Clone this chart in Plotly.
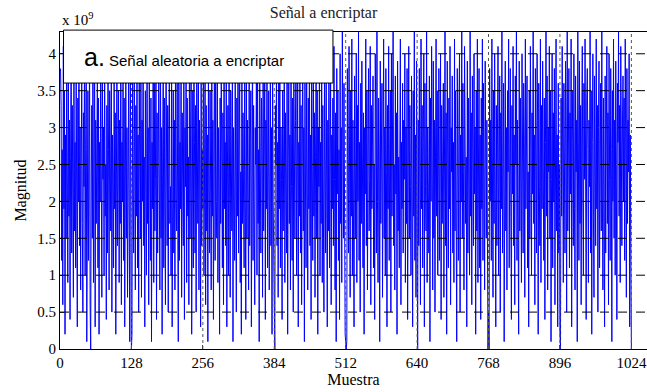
import numpy as np
import plotly.graph_objects as go

# Signal values in units of 1e8, 128 samples per block
seg_a = [38,33,12,27,6,41,19,35,2,29,15,40,24,9,36,18,
         31,4,26,42,13,33,21,7,39,16,28,11,37,23,3,34,
         20,43,14,30,8,25,38,17,5,32,22,41,10,27,36,1,
         19,35,12,29,40,6,0,24,33,15,38,9,21,42,3,31,
         17,26,37,11,34,2,28,20,39,14,7,36,23,30,10,41,
         18,25,4,33,13,38,27,8,35,21,16,42,5,29,24,11,
         37,19,32,2,26,40,14,22,35,9,31,17,43,6,28,20,
         38,12,34,3,25,39,15,30,7,23,36,18,1,41,10,0]
seg_b = [2,36,21,13,40,27,8,33,18,42,11,29,5,37,24,15,
         39,7,31,20,43,14,26,3,35,22,10,41,17,30,6,38,
         25,12,34,1,28,19,42,9,36,16,23,40,4,32,13,27,
         37,21,8,43,15,30,2,26,39,11,34,18,6,41,24,14,
         33,5,29,38,17,22,10,42,3,27,35,13,31,8,40,20,
         16,36,25,1,43,12,28,19,38,7,32,24,14,41,4,30,
         22,39,9,34,18,26,6,42,15,29,37,2,23,35,11,40,
         28,13,33,5,38,20,17,41,8,31,25,3,36,14,27,19]
seg_c = [42,10,24,37,6,33,16,29,1,39,21,13,35,26,8,41,
         18,31,4,27,43,12,36,20,15,38,9,30,23,2,34,17,
         40,25,11,32,6,42,19,28,14,37,3,24,33,10,39,21,
         7,35,26,16,43,1,30,22,12,38,27,5,34,18,41,13,
         29,36,9,24,2,40,17,32,20,11,37,26,4,43,15,31,
         23,8,39,14,28,35,3,21,42,12,33,19,6,30,25,38,
         10,41,17,27,1,36,22,13,34,29,7,40,16,24,38,4,
         31,19,43,11,26,35,8,22,37,14,30,2,41,20,9,1]
seg_d = [0,33,25,40,14,28,7,37,19,42,11,30,23,4,35,16,
         27,39,9,32,21,13,43,2,26,36,17,29,8,41,22,12,
         34,5,38,20,15,31,42,10,24,37,3,28,18,40,13,33,
         6,25,43,16,30,1,36,21,11,39,27,8,34,19,42,14,
         29,4,37,23,12,41,18,32,7,26,38,15,35,2,30,22,
         40,10,28,17,43,9,33,24,5,36,20,13,39,27,3,31,
         16,42,11,25,37,6,29,19,34,14,41,23,8,32,1,38,
         21,35,12,27,4,40,17,30,9,43,24,15,36,6,2,1]
seg_e = [0,1,38,24,13,41,29,7,35,18,42,10,31,22,3,37,
         26,15,40,9,33,20,43,12,28,5,36,17,39,24,11,32,
         2,30,21,42,14,35,8,27,38,16,23,41,6,33,19,29,
         37,11,25,4,40,31,13,43,20,9,34,26,1,39,17,28,
         36,7,22,42,15,30,10,38,24,3,33,19,41,12,27,35,
         5,40,18,29,43,14,25,8,37,21,32,2,39,16,26,11,
         34,42,6,28,19,36,13,31,23,40,9,30,17,38,4,27,
         41,15,33,22,10,37,25,3,35,18,43,12,29,7,39,21]
seg_f = [0,31,14,38,25,6,42,19,33,11,28,40,3,36,22,16,
         43,9,30,24,13,37,1,34,20,41,27,8,39,15,31,5,
         26,42,18,35,10,29,38,12,23,40,4,33,17,28,36,7,
         21,43,14,32,2,39,25,11,34,19,41,6,30,24,37,13,
         28,9,42,16,35,22,1,38,27,12,33,40,5,29,20,43,
         15,36,24,8,41,31,17,26,3,39,13,34,22,10,43,18,
         32,6,37,27,14,40,21,30,2,35,16,42,9,25,38,11,
         29,4,34,19,42,12,36,23,8,39,26,15,31,1,0,5]
seg_g = [0,38,20,31,12,42,27,7,35,17,40,24,3,33,14,29,
         41,10,26,37,5,32,19,43,13,28,36,1,22,39,16,30,
         8,35,24,42,11,27,38,18,4,33,21,41,14,29,6,37,
         25,43,12,31,20,2,39,16,34,26,9,40,23,13,36,28,
         7,42,19,30,37,11,24,3,35,15,41,27,10,32,21,43,
         17,29,6,38,25,13,40,31,2,36,22,14,42,9,33,19,
         39,26,12,34,4,28,43,18,37,8,30,24,41,15,35,1,
         23,40,11,32,20,38,6,27,42,16,29,3,36,13,25,2]
seg_h = [0,34,18,41,27,9,36,22,13,39,30,5,43,16,25,38,
         11,32,21,42,3,35,28,14,40,19,8,37,24,31,1,43,
         26,12,39,17,33,6,29,41,20,10,36,23,42,15,4,34,
         38,27,9,31,22,43,13,35,2,28,40,18,7,37,25,14,
         42,19,33,5,30,39,11,26,36,16,43,21,8,34,24,3,
         37,13,29,41,17,32,6,40,23,12,38,27,1,35,20,42,
         15,31,10,39,25,4,36,28,43,18,33,9,41,22,14,30,
         37,20,34,12,42,26,7,38,17,31,24,40,3,29,16,0]

x_ticks = [0, 128, 256, 384, 512, 640, 768, 896, 1024]
y_ticks = [0, 0.5e9, 1e9, 1.5e9, 2e9, 2.5e9, 3e9, 3.5e9, 4e9]
y_tick_text = ["0", "0.5", "1", "1.5", "2", "2.5", "3", "3.5", "4"]

values = np.array(seg_a + seg_b + seg_c + seg_d + seg_e + seg_f + seg_g + seg_h, dtype=float)
values = np.minimum(values * 1e8, 2**32 - 1)
samples = np.arange(1, len(values) + 1)

YMAX = 2**32 - 1
XMAX = 1052

fig = go.Figure()
fig.add_trace(go.Scatter(x=samples, y=values, mode="lines",
                         line=dict(color="#0000FF", width=1),
                         showlegend=False, hoverinfo="skip"))

serif = "Liberation Serif"
shapes = []
for v in y_ticks[1:]:
    shapes.append(dict(type="line", xref="x", yref="y", x0=0, x1=XMAX, y0=v, y1=v,
                       line=dict(color="black", width=1, dash="dash"), layer="above"))
for v in x_ticks[1:]:
    shapes.append(dict(type="line", xref="x", yref="y", x0=v, x1=v, y0=0, y1=YMAX,
                       line=dict(color="#555555", width=1, dash="dot"), layer="above"))
# legend-like box
shapes.append(dict(type="rect", xref="paper", yref="paper", x0=0.006, x1=0.465,
                   y0=0.839, y1=1.006, fillcolor="white",
                   line=dict(color="black", width=1), layer="above"))

fig.update_layout(
    width=647, height=392,
    margin=dict(l=60, r=0, t=32, b=43),
    paper_bgcolor="white", plot_bgcolor="white",
    title=dict(text="Señal a encriptar", x=0.5, xanchor="center", y=0.968, yanchor="middle",
               font=dict(family=serif, size=16, color="#222")),
    shapes=shapes,
    font=dict(family=serif, size=15, color="black"),
)
fig.update_xaxes(range=[0, XMAX], tickvals=x_ticks, ticktext=[str(t) for t in x_ticks],
                 showgrid=False, zeroline=False, showline=True, linecolor="black",
                 linewidth=1, mirror=True, ticks="inside", ticklen=4,
                 tickfont=dict(family=serif, size=15),
                 title=dict(text="Muestra", font=dict(family=serif, size=16), standoff=2))
fig.update_yaxes(range=[0, YMAX], tickvals=y_ticks, ticktext=y_tick_text,
                 showgrid=False, zeroline=False, showline=True, linecolor="black",
                 linewidth=1, mirror=False, ticks="inside", ticklen=4,
                 tickfont=dict(family=serif, size=15),
                 title=dict(text="Magnitud", font=dict(family=serif, size=16), standoff=6))

fig.add_annotation(xref="paper", yref="paper", x=0.0, y=1.005, xanchor="left", yanchor="bottom",
                   text="x 10<sup>9</sup>", showarrow=False,
                   font=dict(family=serif, size=15, color="black"))
fig.add_annotation(xref="paper", yref="paper", x=0.037, y=0.922, xanchor="left", yanchor="middle",
                   text="<span style='font-size:25px'>a.</span> Señal aleatoria a encriptar",
                   showarrow=False, font=dict(family="Liberation Sans", size=15, color="black"))

fig.write_html("out.html")
